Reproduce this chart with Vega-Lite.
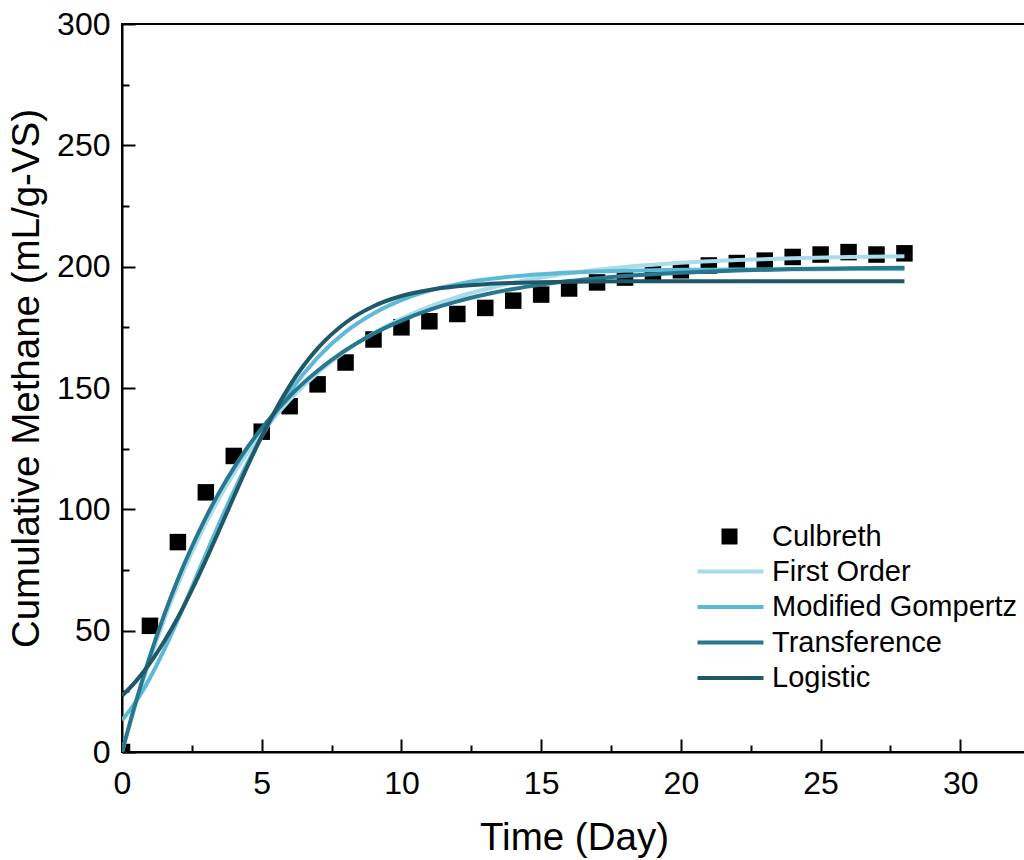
{
  "$schema": "https://vega.github.io/schema/vega-lite/v6.json",
  "width": 904,
  "height": 728,
  "autosize": {"type": "none"},
  "padding": {"left": 122, "top": 24, "right": 0, "bottom": 108},
  "background": "white",
  "config": {
    "font": "Liberation Sans",
    "view": {"stroke": "black", "strokeWidth": 2},
    "axis": {
      "domainColor": "black", "domainWidth": 2, "tickColor": "black", "tickWidth": 2,
      "labelColor": "black", "labelFont": "Liberation Sans", "labelFontSize": 32,
      "titleColor": "black", "titleFont": "Liberation Sans", "titleFontSize": 38.5, "titleFontWeight": "normal",
      "grid": false
    },
    "legend": {"labelFont": "Liberation Sans", "labelFontSize": 29, "labelColor": "black", "padding": 0, "labelLimit": 400}
  },
  "datasets": {
    "obs": [
      {"day": 0, "y": 0, "series": "Culbreth"},
      {"day": 1, "y": 52, "series": "Culbreth"},
      {"day": 2, "y": 86.5, "series": "Culbreth"},
      {"day": 3, "y": 107, "series": "Culbreth"},
      {"day": 4, "y": 122, "series": "Culbreth"},
      {"day": 5, "y": 132, "series": "Culbreth"},
      {"day": 6, "y": 142.5, "series": "Culbreth"},
      {"day": 7, "y": 151.5, "series": "Culbreth"},
      {"day": 8, "y": 160.5, "series": "Culbreth"},
      {"day": 9, "y": 170, "series": "Culbreth"},
      {"day": 10, "y": 175, "series": "Culbreth"},
      {"day": 11, "y": 177.5, "series": "Culbreth"},
      {"day": 12, "y": 180.5, "series": "Culbreth"},
      {"day": 13, "y": 183, "series": "Culbreth"},
      {"day": 14, "y": 186, "series": "Culbreth"},
      {"day": 15, "y": 188.5, "series": "Culbreth"},
      {"day": 16, "y": 191, "series": "Culbreth"},
      {"day": 17, "y": 193.5, "series": "Culbreth"},
      {"day": 18, "y": 195.5, "series": "Culbreth"},
      {"day": 19, "y": 197.5, "series": "Culbreth"},
      {"day": 20, "y": 198.5, "series": "Culbreth"},
      {"day": 21, "y": 200.5, "series": "Culbreth"},
      {"day": 22, "y": 201.5, "series": "Culbreth"},
      {"day": 23, "y": 202.5, "series": "Culbreth"},
      {"day": 24, "y": 204, "series": "Culbreth"},
      {"day": 25, "y": 205, "series": "Culbreth"},
      {"day": 26, "y": 206, "series": "Culbreth"},
      {"day": 27, "y": 205, "series": "Culbreth"},
      {"day": 28, "y": 205.5, "series": "Culbreth"}
    ],
    "fit": [
      {"model": "First Order", "t": 0, "y": 0},
      {"model": "First Order", "t": 0.5, "y": 20.0},
      {"model": "First Order", "t": 1, "y": 38.0},
      {"model": "First Order", "t": 1.5, "y": 54.3},
      {"model": "First Order", "t": 2, "y": 68.9},
      {"model": "First Order", "t": 2.5, "y": 82.2},
      {"model": "First Order", "t": 3, "y": 94.2},
      {"model": "First Order", "t": 3.5, "y": 105.0},
      {"model": "First Order", "t": 4, "y": 114.7},
      {"model": "First Order", "t": 4.5, "y": 123.5},
      {"model": "First Order", "t": 5, "y": 131.4},
      {"model": "First Order", "t": 6, "y": 145.1},
      {"model": "First Order", "t": 7, "y": 156.2},
      {"model": "First Order", "t": 8, "y": 165.2},
      {"model": "First Order", "t": 9, "y": 172.6},
      {"model": "First Order", "t": 10, "y": 178.6},
      {"model": "First Order", "t": 11, "y": 183.5},
      {"model": "First Order", "t": 12, "y": 187.5},
      {"model": "First Order", "t": 13, "y": 190.7},
      {"model": "First Order", "t": 14, "y": 193.4},
      {"model": "First Order", "t": 15, "y": 195.5},
      {"model": "First Order", "t": 16, "y": 197.3},
      {"model": "First Order", "t": 17, "y": 198.7},
      {"model": "First Order", "t": 18, "y": 199.9},
      {"model": "First Order", "t": 19, "y": 200.8},
      {"model": "First Order", "t": 20, "y": 201.6},
      {"model": "First Order", "t": 22, "y": 202.7},
      {"model": "First Order", "t": 24, "y": 203.5},
      {"model": "First Order", "t": 26, "y": 204.0},
      {"model": "First Order", "t": 28, "y": 204.3},

      {"model": "Modified Gompertz", "t": 0, "y": 13.1},
      {"model": "Modified Gompertz", "t": 0.5, "y": 20.8},
      {"model": "Modified Gompertz", "t": 1, "y": 30.5},
      {"model": "Modified Gompertz", "t": 1.5, "y": 41.9},
      {"model": "Modified Gompertz", "t": 2, "y": 54.5},
      {"model": "Modified Gompertz", "t": 2.5, "y": 67.9},
      {"model": "Modified Gompertz", "t": 3, "y": 81.5},
      {"model": "Modified Gompertz", "t": 3.5, "y": 94.8},
      {"model": "Modified Gompertz", "t": 4, "y": 107.4},
      {"model": "Modified Gompertz", "t": 4.5, "y": 119.3},
      {"model": "Modified Gompertz", "t": 5, "y": 130.1},
      {"model": "Modified Gompertz", "t": 5.5, "y": 139.8},
      {"model": "Modified Gompertz", "t": 6, "y": 148.4},
      {"model": "Modified Gompertz", "t": 7, "y": 162.5},
      {"model": "Modified Gompertz", "t": 8, "y": 173.1},
      {"model": "Modified Gompertz", "t": 9, "y": 180.7},
      {"model": "Modified Gompertz", "t": 10, "y": 186.2},
      {"model": "Modified Gompertz", "t": 11, "y": 190.1},
      {"model": "Modified Gompertz", "t": 12, "y": 192.8},
      {"model": "Modified Gompertz", "t": 13, "y": 194.7},
      {"model": "Modified Gompertz", "t": 14, "y": 196.0},
      {"model": "Modified Gompertz", "t": 15, "y": 196.9},
      {"model": "Modified Gompertz", "t": 16, "y": 197.6},
      {"model": "Modified Gompertz", "t": 17, "y": 198.0},
      {"model": "Modified Gompertz", "t": 18, "y": 198.3},
      {"model": "Modified Gompertz", "t": 20, "y": 198.7},
      {"model": "Modified Gompertz", "t": 22, "y": 198.8},
      {"model": "Modified Gompertz", "t": 24, "y": 198.9},
      {"model": "Modified Gompertz", "t": 26, "y": 199.0},
      {"model": "Modified Gompertz", "t": 28, "y": 199.0},

      {"model": "Transference", "t": 0, "y": 0},
      {"model": "Transference", "t": 0.5, "y": 20.8},
      {"model": "Transference", "t": 1, "y": 39.5},
      {"model": "Transference", "t": 1.5, "y": 56.2},
      {"model": "Transference", "t": 2, "y": 71.2},
      {"model": "Transference", "t": 2.5, "y": 84.6},
      {"model": "Transference", "t": 3, "y": 96.6},
      {"model": "Transference", "t": 3.5, "y": 107.4},
      {"model": "Transference", "t": 4, "y": 117.0},
      {"model": "Transference", "t": 4.5, "y": 125.7},
      {"model": "Transference", "t": 5, "y": 133.4},
      {"model": "Transference", "t": 6, "y": 146.6},
      {"model": "Transference", "t": 7, "y": 157.1},
      {"model": "Transference", "t": 8, "y": 165.6},
      {"model": "Transference", "t": 9, "y": 172.4},
      {"model": "Transference", "t": 10, "y": 177.8},
      {"model": "Transference", "t": 11, "y": 182.2},
      {"model": "Transference", "t": 12, "y": 185.7},
      {"model": "Transference", "t": 13, "y": 188.5},
      {"model": "Transference", "t": 14, "y": 190.8},
      {"model": "Transference", "t": 15, "y": 192.6},
      {"model": "Transference", "t": 16, "y": 194.1},
      {"model": "Transference", "t": 17, "y": 195.2},
      {"model": "Transference", "t": 18, "y": 196.2},
      {"model": "Transference", "t": 19, "y": 196.9},
      {"model": "Transference", "t": 20, "y": 197.5},
      {"model": "Transference", "t": 22, "y": 198.4},
      {"model": "Transference", "t": 24, "y": 199.0},
      {"model": "Transference", "t": 26, "y": 199.3},
      {"model": "Transference", "t": 28, "y": 199.6},

      {"model": "Logistic", "t": 0, "y": 23.1},
      {"model": "Logistic", "t": 0.5, "y": 29.2},
      {"model": "Logistic", "t": 1, "y": 36.6},
      {"model": "Logistic", "t": 1.5, "y": 45.4},
      {"model": "Logistic", "t": 2, "y": 55.4},
      {"model": "Logistic", "t": 2.5, "y": 66.8},
      {"model": "Logistic", "t": 3, "y": 79.1},
      {"model": "Logistic", "t": 3.5, "y": 92.0},
      {"model": "Logistic", "t": 4, "y": 105.1},
      {"model": "Logistic", "t": 4.5, "y": 118.0},
      {"model": "Logistic", "t": 5, "y": 130.1},
      {"model": "Logistic", "t": 5.5, "y": 141.1},
      {"model": "Logistic", "t": 6, "y": 150.9},
      {"model": "Logistic", "t": 7, "y": 166.3},
      {"model": "Logistic", "t": 8, "y": 176.9},
      {"model": "Logistic", "t": 9, "y": 183.7},
      {"model": "Logistic", "t": 10, "y": 187.9},
      {"model": "Logistic", "t": 11, "y": 190.4},
      {"model": "Logistic", "t": 12, "y": 191.9},
      {"model": "Logistic", "t": 13, "y": 192.8},
      {"model": "Logistic", "t": 14, "y": 193.3},
      {"model": "Logistic", "t": 15, "y": 193.6},
      {"model": "Logistic", "t": 16, "y": 193.8},
      {"model": "Logistic", "t": 18, "y": 193.95},
      {"model": "Logistic", "t": 20, "y": 194.0},
      {"model": "Logistic", "t": 24, "y": 194.0},
      {"model": "Logistic", "t": 28, "y": 194.0}
    ]
  },
  "resolve": {"axis": {"x": "independent", "y": "independent"}},
  "layer": [
    {
      "data": {"name": "obs"},
      "mark": {"type": "point", "shape": "square", "filled": true, "color": "black", "size": 272, "opacity": 1, "clip": true},
      "encoding": {
        "x": {"field": "day", "type": "quantitative",
              "scale": {"domain": [0, 32.35], "nice": false, "zero": false},
              "axis": {"orient": "bottom", "values": [0, 5, 10, 15, 20, 25, 30], "tickSize": -13, "labelPadding": 29,
                       "title": "Time (Day)", "titleBaseline": "alphabetic", "titleY": 97, "labelFlush": false, "labelOverlap": false}},
        "y": {"field": "y", "type": "quantitative",
              "scale": {"domain": [0, 300], "nice": false, "zero": false},
              "axis": {"orient": "left", "values": [0, 50, 100, 150, 200, 250, 300], "tickSize": -13, "labelPadding": 25,
                       "title": "Cumulative Methane (mL/g-VS)", "titleBaseline": "alphabetic", "titleX": -84, "titleY": 354,
                       "labelFlush": false, "labelOverlap": false}},
        "shape": {"field": "series", "type": "nominal", "scale": {"range": ["square"]},
                  "legend": {"title": null, "orient": "none", "legendX": 593, "legendY": 498, "symbolSize": 256,
                             "symbolFillColor": "black", "symbolStrokeWidth": 0, "labelOffset": 28}}
      }
    },
    {
      "data": {"name": "obs"},
      "mark": {"type": "point", "opacity": 0},
      "encoding": {
        "x": {"field": "day", "type": "quantitative",
              "axis": {"orient": "bottom", "values": [2.5, 7.5, 12.5, 17.5, 22.5, 27.5, 32.5], "tickSize": -7, "labels": false, "domain": false, "title": null}},
        "y": {"field": "y", "type": "quantitative",
              "axis": {"orient": "left", "values": [25, 75, 125, 175, 225, 275], "tickSize": -7, "labels": false, "domain": false, "title": null}}
      }
    },
    {
      "data": {"name": "fit"},
      "transform": [{"filter": "datum.model == 'First Order'"}],
      "mark": {"type": "line", "strokeWidth": 4, "interpolate": "monotone", "clip": true},
      "encoding": {
        "x": {"field": "t", "type": "quantitative", "axis": null},
        "y": {"field": "y", "type": "quantitative", "axis": null},
        "color": {"field": "model", "type": "nominal",
                  "scale": {"domain": ["First Order", "Modified Gompertz", "Transference", "Logistic"],
                            "range": ["#a8dcea", "#5db9d6", "#27778f", "#1f5868"]},
                  "legend": {"title": null, "orient": "none", "legendX": 594, "legendY": 533,
                             "symbolType": "M-3,0H3", "symbolSize": 484, "symbolStrokeWidth": 4, "labelOffset": 27, "rowPadding": 5.5}}
      }
    },
    {
      "data": {"name": "fit"},
      "transform": [{"filter": "datum.model == 'Modified Gompertz'"}],
      "mark": {"type": "line", "strokeWidth": 4, "interpolate": "monotone", "clip": true},
      "encoding": {
        "x": {"field": "t", "type": "quantitative", "axis": null},
        "y": {"field": "y", "type": "quantitative", "axis": null},
        "color": {"field": "model", "type": "nominal"}
      }
    },
    {
      "data": {"name": "fit"},
      "transform": [{"filter": "datum.model == 'Transference'"}],
      "mark": {"type": "line", "strokeWidth": 4, "interpolate": "monotone", "clip": true},
      "encoding": {
        "x": {"field": "t", "type": "quantitative", "axis": null},
        "y": {"field": "y", "type": "quantitative", "axis": null},
        "color": {"field": "model", "type": "nominal"}
      }
    },
    {
      "data": {"name": "fit"},
      "transform": [{"filter": "datum.model == 'Logistic'"}],
      "mark": {"type": "line", "strokeWidth": 4, "interpolate": "monotone", "clip": true},
      "encoding": {
        "x": {"field": "t", "type": "quantitative", "axis": null},
        "y": {"field": "y", "type": "quantitative", "axis": null},
        "color": {"field": "model", "type": "nominal"}
      }
    }
  ]
}
